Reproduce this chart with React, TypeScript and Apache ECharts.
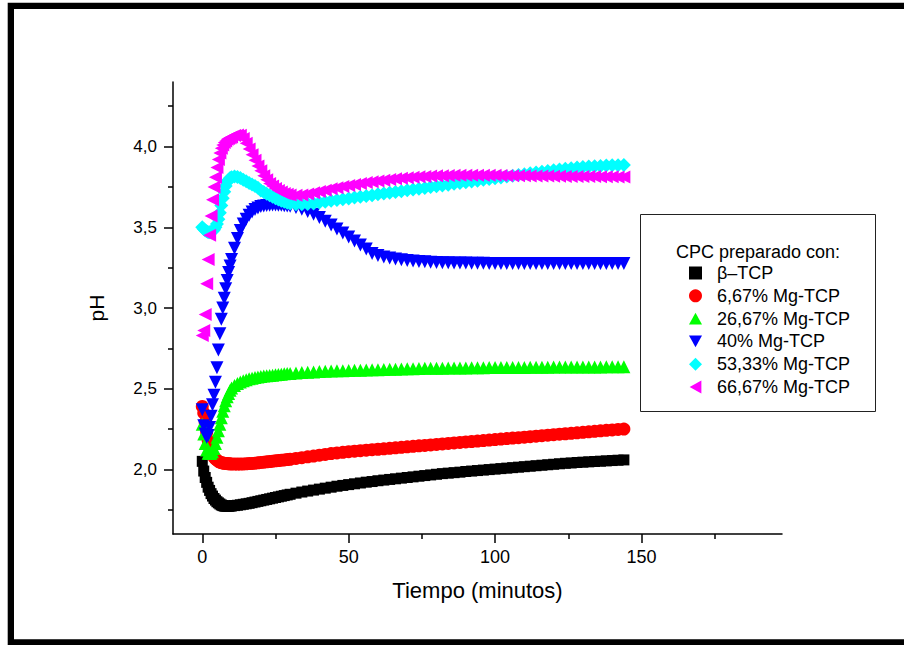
import React, { useEffect, useRef } from "react";
import * as echarts from "echarts";

// time (minutes)
const minutes = [
  0, 0.5, 1, 1.5, 2, 2.5, 3, 3.5, 4, 4.5,
  5, 5.5, 6, 6.5, 7, 7.5, 8, 8.5, 9, 9.5,
  10, 11, 12, 13, 14, 15, 16, 17, 18, 19,
  20, 21, 22, 23, 24, 25, 26, 27, 28, 29,
  30, 32, 34, 36, 38, 40, 42, 44, 46, 48,
  50, 52, 54, 56, 58, 60, 62, 64, 66, 68,
  70, 72, 74, 76, 78, 80, 82, 84, 86, 88,
  90, 92, 94, 96, 98, 100, 102, 104, 106, 108,
  110, 112, 114, 116, 118, 120, 122, 124, 126, 128,
  130, 132, 134, 136, 138, 140, 142, 144,
];

const betaTCP = [
  2.05, 1.99, 1.95, 1.92, 1.89, 1.87, 1.85, 1.835, 1.82, 1.81,
  1.8, 1.793, 1.786, 1.78, 1.776, 1.773, 1.772, 1.772, 1.772, 1.773,
  1.774, 1.776, 1.778, 1.781, 1.784, 1.787, 1.79, 1.794, 1.798, 1.802,
  1.806, 1.81, 1.814, 1.818, 1.822, 1.826, 1.83, 1.834, 1.838, 1.842,
  1.846, 1.853, 1.86, 1.866, 1.872, 1.878, 1.884, 1.89, 1.896, 1.901,
  1.906, 1.911, 1.916, 1.921, 1.925, 1.93, 1.934, 1.938, 1.942, 1.946,
  1.95, 1.954, 1.958, 1.962, 1.966, 1.97, 1.974, 1.977, 1.98, 1.983,
  1.987, 1.99, 1.993, 1.996, 1.999, 2.002, 2.005, 2.008, 2.011, 2.014,
  2.017, 2.02, 2.023, 2.026, 2.029, 2.032, 2.035, 2.038, 2.04, 2.043,
  2.045, 2.047, 2.049, 2.051, 2.053, 2.055, 2.057, 2.059,
];

const mg667 = [
  2.39, 2.35, 2.29, 2.23, 2.18, 2.14, 2.11, 2.09, 2.075, 2.065,
  2.057, 2.05, 2.045, 2.042, 2.04, 2.038, 2.037, 2.036, 2.035, 2.035,
  2.034, 2.033, 2.033, 2.033, 2.034, 2.035, 2.036, 2.037, 2.039, 2.041,
  2.043, 2.045, 2.047, 2.049, 2.051, 2.053, 2.055, 2.057, 2.059, 2.061,
  2.063, 2.068, 2.073, 2.078, 2.083, 2.088, 2.093, 2.098, 2.102, 2.106,
  2.11, 2.113, 2.116, 2.119, 2.122, 2.125, 2.128, 2.131, 2.134, 2.137,
  2.14, 2.143, 2.146, 2.149, 2.152, 2.155, 2.158, 2.161, 2.164, 2.167,
  2.17, 2.173, 2.176, 2.179, 2.182, 2.185, 2.188, 2.191, 2.194, 2.197,
  2.2, 2.203, 2.206, 2.209, 2.212, 2.215, 2.218, 2.221, 2.224, 2.227,
  2.23, 2.233, 2.236, 2.239, 2.242, 2.245, 2.248, 2.25,
];

const mg2667 = [
  2.28, 2.22, 2.16, 2.12, 2.1, 2.1, 2.1, 2.11, 2.13, 2.16,
  2.2, 2.24, 2.28, 2.32, 2.36, 2.395, 2.425, 2.45, 2.47, 2.49,
  2.505, 2.52, 2.532, 2.542, 2.55, 2.556, 2.561, 2.565, 2.569, 2.572,
  2.575, 2.578, 2.58, 2.582, 2.584, 2.586, 2.588, 2.59, 2.592, 2.594,
  2.595, 2.598, 2.6, 2.602, 2.604, 2.606, 2.608, 2.61, 2.611, 2.612,
  2.613, 2.614, 2.615, 2.616, 2.617, 2.618, 2.619, 2.62, 2.621, 2.622,
  2.623, 2.624, 2.625, 2.626, 2.626, 2.627, 2.627, 2.628, 2.628, 2.629,
  2.629, 2.63, 2.63, 2.63, 2.631, 2.631, 2.631, 2.632, 2.632, 2.632,
  2.632, 2.633, 2.633, 2.633, 2.633, 2.634, 2.634, 2.634, 2.634, 2.635,
  2.635, 2.635, 2.635, 2.635, 2.636, 2.636, 2.636, 2.636,
];

const mg40 = [
  2.37, 2.27, 2.22, 2.2, 2.21, 2.26, 2.33, 2.4, 2.46, 2.54,
  2.63, 2.74, 2.84, 2.93, 3.0, 3.06, 3.12, 3.17, 3.22, 3.26,
  3.3, 3.37, 3.43, 3.48, 3.52, 3.55, 3.575, 3.595, 3.61, 3.62,
  3.628, 3.632, 3.635, 3.637, 3.638, 3.638, 3.637, 3.636, 3.634, 3.632,
  3.63, 3.622, 3.612, 3.598, 3.58, 3.56, 3.538, 3.514, 3.49, 3.465,
  3.44, 3.415, 3.39, 3.365, 3.338, 3.325, 3.316, 3.309, 3.304, 3.299,
  3.295, 3.291, 3.288, 3.286, 3.284, 3.282, 3.281, 3.28, 3.279, 3.278,
  3.278, 3.277, 3.277, 3.277, 3.276, 3.276, 3.276, 3.276, 3.275, 3.275,
  3.275, 3.275, 3.275, 3.275, 3.275, 3.275, 3.275, 3.275, 3.275, 3.275,
  3.275, 3.275, 3.275, 3.275, 3.275, 3.275, 3.275, 3.275,
];

const mg5333 = [
  3.5, 3.49, 3.48, 3.475, 3.47, 3.47, 3.47, 3.475, 3.485, 3.5,
  3.52, 3.55, 3.59, 3.635, 3.68, 3.72, 3.755, 3.78, 3.795, 3.805,
  3.81, 3.815, 3.812, 3.805, 3.795, 3.785, 3.775, 3.765, 3.755, 3.745,
  3.728, 3.718, 3.708, 3.698, 3.689, 3.68, 3.672, 3.665, 3.658, 3.652,
  3.647, 3.643, 3.642, 3.644, 3.648, 3.653, 3.658, 3.664, 3.669, 3.674,
  3.679, 3.684, 3.689, 3.694, 3.699, 3.704, 3.709, 3.714, 3.719, 3.724,
  3.729, 3.734, 3.739, 3.744, 3.749, 3.754, 3.759, 3.764, 3.769, 3.774,
  3.779, 3.784, 3.789, 3.794, 3.799, 3.804, 3.809, 3.814, 3.819, 3.824,
  3.829, 3.834, 3.839, 3.844, 3.849, 3.854, 3.858, 3.862, 3.866, 3.87,
  3.873, 3.876, 3.878, 3.88, 3.882, 3.884, 3.885, 3.886,
];

const mg6667 = [
  2.83, 2.86, 2.96, 3.15, 3.3, 3.45, 3.57, 3.67, 3.75, 3.81,
  3.87, 3.92, 3.96, 3.99, 4.01, 4.025, 4.035, 4.045, 4.05, 4.055,
  4.06, 4.068, 4.072, 4.07, 4.05, 4.02, 3.985, 3.95, 3.915, 3.88,
  3.85, 3.82, 3.795, 3.772, 3.755, 3.74, 3.728, 3.718, 3.71, 3.704,
  3.7, 3.698, 3.7, 3.706, 3.714, 3.722, 3.73, 3.738, 3.745, 3.752,
  3.759, 3.765, 3.771, 3.777, 3.782, 3.787, 3.792, 3.796, 3.8, 3.804,
  3.807, 3.81, 3.813, 3.815, 3.817, 3.819, 3.82, 3.821, 3.822, 3.823,
  3.823, 3.823, 3.823, 3.823, 3.822, 3.822, 3.821, 3.82, 3.82, 3.819,
  3.819, 3.818, 3.818, 3.817, 3.817, 3.816, 3.816, 3.815, 3.815, 3.815,
  3.814, 3.814, 3.814, 3.813, 3.813, 3.813, 3.812, 3.812,
];

const seriesNames = [
  "β–TCP",
  "6,67% Mg-TCP",
  "26,67% Mg-TCP",
  "40% Mg-TCP",
  "53,33% Mg-TCP",
  "66,67% Mg-TCP",
];
const seriesValues = [betaTCP, mg667, mg2667, mg40, mg5333, mg6667];
const seriesColors = ["#000000", "#ff0000", "#00ff00", "#0000ff", "#00ffff", "#ff00ff"];
const seriesSymbols = ["rect", "circle", "triangle", "triangle", "diamond", "triangle"];
const seriesRotations = [0, 0, 0, 180, 0, 90];
const seriesSizes = [11, 13, 13, 13, 14, 13];
const legendIcons = [
  "path://M0,0L10,0L10,10L0,10Z",
  "circle",
  "path://M5,0L10,9L0,9Z",
  "path://M0,0L10,0L5,9Z",
  "diamond",
  "path://M9,0L9,10L0,5Z",
];

const xTickLabels = [0, 50, 100, 150];
const xMinorTicks = [25, 75, 125, 175];
const yTickLabels = [2.0, 2.5, 3.0, 3.5, 4.0];
const yMinorTicks = [1.75, 2.25, 2.75, 3.25, 3.75, 4.25];

const legendTitle = "CPC preparado con:";
const xTitle = "Tiempo (minutos)";
const yTitle = "pH";

const FONT = "'Liberation Sans', Arial, sans-serif";

export default function App() {
  const ref = useRef<HTMLDivElement>(null);
  useEffect(() => {
    if (!ref.current) return;
    const chart = echarts.init(ref.current, undefined, { renderer: "svg" });
    const X_MIN = -10;
    const X_MAX = 198;
    const Y_MIN = 1.6;
    const Y_MAX = 4.4;
    const lineStyle = { color: "#000", width: 1.5 };
    const series = seriesNames.map((name, i) => ({
      name,
      type: "scatter",
      xAxisIndex: 0,
      yAxisIndex: 0,
      symbol: seriesSymbols[i],
      symbolRotate: seriesRotations[i],
      symbolSize: seriesSizes[i],
      itemStyle: { color: seriesColors[i], opacity: 1 },
      emphasis: { disabled: true },
      data: minutes.map((t, k) => [t, seriesValues[i][k]]),
    }));
    const legendData = seriesNames.map((name, i) => ({
      name,
      icon: legendIcons[i],
      itemStyle: { color: seriesColors[i] },
    }));
    chart.setOption({
      animation: false,
      backgroundColor: "#fff",
      textStyle: { fontFamily: FONT },
      grid: { left: 173, top: 82, width: 609, height: 452, containLabel: false },
      xAxis: [
        {
          type: "value",
          min: X_MIN,
          max: X_MAX,
          axisLine: { onZero: false, lineStyle },
          splitLine: { show: false },
          axisTick: { show: true, customValues: xTickLabels, length: 9, lineStyle },
          axisLabel: { customValues: xTickLabels, color: "#000", fontSize: 18, fontFamily: FONT, margin: 14 },
          name: xTitle,
          nameLocation: "middle",
          nameGap: 45,
          nameTextStyle: { color: "#000", fontSize: 22, fontFamily: FONT },
        },
        {
          type: "value",
          min: X_MIN,
          max: X_MAX,
          position: "bottom",
          axisLine: { show: false, onZero: false },
          splitLine: { show: false },
          axisLabel: { show: false },
          axisTick: { show: true, customValues: xMinorTicks, length: 5, lineStyle },
        },
      ],
      yAxis: [
        {
          type: "value",
          min: Y_MIN,
          max: Y_MAX,
          axisLine: { show: true, onZero: false, lineStyle },
          splitLine: { show: false },
          axisTick: { show: true, customValues: yTickLabels, length: 9, lineStyle },
          axisLabel: {
            customValues: yTickLabels,
            color: "#000",
            fontSize: 17,
            fontFamily: FONT,
            margin: 16,
            formatter: (v: number) => v.toFixed(1).replace(".", ","),
          },
          name: yTitle,
          nameLocation: "middle",
          nameGap: 66,
          nameTextStyle: { color: "#000", fontSize: 21, fontFamily: FONT },
        },
        {
          type: "value",
          min: Y_MIN,
          max: Y_MAX,
          position: "left",
          axisLine: { show: false, onZero: false },
          splitLine: { show: false },
          axisLabel: { show: false },
          axisTick: { show: true, customValues: yMinorTicks, length: 5, lineStyle },
        },
      ],
      legend: {
        show: true,
        orient: "vertical",
        left: 684,
        top: 259,
        itemWidth: 13,
        itemHeight: 13,
        itemGap: 4.8,
        selectedMode: false,
        textStyle: { color: "#000", fontSize: 18, fontFamily: FONT, padding: [0, 0, 0, 10] },
        data: legendData,
      },
      graphic: [
        {
          type: "rect",
          shape: { x: 10.85, y: 5.85, width: 1000, height: 636.6 },
          style: { fill: "none", stroke: "#000", lineWidth: 6.3 },
          silent: true,
        },
        {
          type: "rect",
          shape: { x: 640.5, y: 214.5, width: 235, height: 197 },
          style: { fill: "#fff", stroke: "#222", lineWidth: 1 },
          silent: true,
          z: -1,
        },
        {
          type: "text",
          x: 676,
          y: 252,
          style: { text: legendTitle, fill: "#000", fontSize: 18, fontFamily: FONT, verticalAlign: "middle" },
          silent: true,
        },
      ],
      series,
    });
    return () => chart.dispose();
  }, []);
  return <div ref={ref} style={{ position: "fixed", left: 0, top: 0, width: 904, height: 645, background: "#fff" }} />;
}
